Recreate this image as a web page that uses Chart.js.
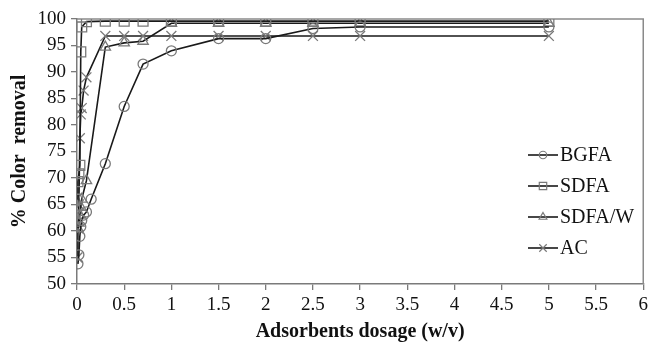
<!DOCTYPE html>
<html><head><meta charset="utf-8">
<script src="https://cdn.jsdelivr.net/npm/chart.js@4/dist/chart.umd.min.js"></script>
<style>html,body{margin:0;padding:0;background:#fff;}#wrap{width:652px;height:344px;position:relative;}</style>
</head><body><div id="wrap"><canvas id="c" width="652" height="344"></canvas></div>
<script>
const seriesNames = ['BGFA', 'SDFA', 'SDFA/W', 'AC'];

const bgfaDose    = [0.01, 0.02, 0.03, 0.04, 0.05, 0.07, 0.1, 0.15, 0.3, 0.5, 0.7, 1, 1.5, 2, 2.5, 3, 5];
const bgfaRemoval = [53.8, 55.5, 59, 60.8, 62, 63, 63.6, 66, 72.7, 83.5, 91.5, 94, 96.3, 96.3, 98.2, 98.5, 98.5];

const sdfaDose    = [0.005, 0.01, 0.02, 0.03, 0.04, 0.05, 0.1, 0.3, 0.5, 0.7, 1, 1.5, 2, 2.5, 3, 5];
const sdfaRemoval = [66, 69.3, 70.8, 72.4, 93.8, 98.5, 99.5, 99.6, 99.6, 99.6, 99.6, 99.6, 99.6, 99.6, 99.6, 99.6];

const sdfawDose    = [0.01, 0.02, 0.03, 0.04, 0.05, 0.1, 0.3, 0.5, 0.7, 1, 1.5, 2, 2.5, 3, 5];
const sdfawRemoval = [60.5, 61.5, 63, 64.5, 66, 69.5, 94.7, 95.5, 95.8, 99.2, 99.2, 99.2, 99.2, 99.2, 99.2];

const acDose    = [0.005, 0.01, 0.02, 0.03, 0.04, 0.05, 0.07, 0.1, 0.3, 0.5, 0.7, 1, 1.5, 2, 2.5, 3, 5];
const acRemoval = [55, 60.5, 65, 77.5, 82, 83.2, 86.5, 89, 96.8, 96.8, 96.8, 96.8, 96.8, 96.8, 96.8, 96.8, 96.8];

const xTicks = [0, 0.5, 1, 1.5, 2, 2.5, 3, 3.5, 4, 4.5, 5, 5.5, 6];
const xTickLabels = ['0', '0.5', '1', '1.5', '2', '2.5', '3', '3.5', '4', '4.5', '5', '5.5', '6'];
const yTicks = [50, 55, 60, 65, 70, 75, 80, 85, 90, 95, 100];
const yTickLabels = ['50', '55', '60', '65', '70', '75', '80', '85', '90', '95', '100'];

const FONT = "'Liberation Serif', 'Times New Roman', serif";
const markerColor = '#7a7a7a';
const lineColor = '#1a1a1a';

function pts(xs, ys) { return xs.map((x, i) => ({x: x, y: ys[i]})); }

const styles = [
  {pointStyle: 'circle', pointRadius: 5},
  {pointStyle: 'rect', pointRadius: 7},
  {pointStyle: 'triangle', pointRadius: 6},
  {pointStyle: 'crossRot', pointRadius: 7}
];
const dataArr = [pts(bgfaDose, bgfaRemoval), pts(sdfaDose, sdfaRemoval), pts(sdfawDose, sdfawRemoval), pts(acDose, acRemoval)];

const datasets = seriesNames.map((n, i) => ({
  label: n,
  data: dataArr[i],
  showLine: true,
  tension: 0,
  borderColor: lineColor,
  borderWidth: 1.6,
  pointStyle: styles[i].pointStyle,
  pointRadius: styles[i].pointRadius,
  pointBorderColor: markerColor,
  pointBackgroundColor: 'rgba(0,0,0,0)',
  pointBorderWidth: 1.3
}));

const framePlugin = {
  id: 'frame',
  beforeDatasetsDraw(chart) {
    const {ctx, chartArea: a} = chart;
    ctx.save();
    ctx.strokeStyle = '#8a8a8a';
    ctx.lineWidth = 1.5;
    ctx.beginPath();
    ctx.moveTo(a.left, a.top);
    ctx.lineTo(a.right, a.top);
    ctx.lineTo(a.right, a.bottom);
    ctx.stroke();
    ctx.restore();
  }
};

const legendPlugin = {
  id: 'customLegend',
  afterDraw(chart) {
    const {ctx} = chart;
    const x0 = 528, x1 = 558, tx = 560;
    const ys = [155, 186, 217, 248];
    ctx.save();
    chart.data.datasets.forEach((ds, i) => {
      const y = ys[i];
      ctx.strokeStyle = lineColor;
      ctx.lineWidth = 1.6;
      ctx.beginPath();
      ctx.moveTo(x0, y); ctx.lineTo(x1, y); ctx.stroke();
      ctx.strokeStyle = markerColor;
      ctx.fillStyle = 'rgba(0,0,0,0)';
      ctx.lineWidth = 1.2;
      Chart.helpers.drawPoint(ctx, {pointStyle: ds.pointStyle, radius: ds.pointRadius * 0.75, borderWidth: 1.2, rotation: 0}, (x0 + x1) / 2, y);
      ctx.fillStyle = '#111';
      ctx.font = '20px ' + FONT;
      ctx.textBaseline = 'middle';
      ctx.textAlign = 'left';
      ctx.fillText(ds.label, tx, y + 1);
    });
    ctx.restore();
  }
};

new Chart(document.getElementById('c'), {
  type: 'scatter',
  data: {datasets},
  plugins: [framePlugin, legendPlugin],
  options: {
    responsive: false,
    animation: false,
    devicePixelRatio: 1,
    layout: {padding: {top: 19, right: 7, left: 0, bottom: 0}},
    plugins: {legend: {display: false}, tooltip: {enabled: false}},
    scales: {
      x: {
        type: 'linear', position: 'bottom', min: 0, max: 6,
        afterBuildTicks: s => { s.ticks = xTicks.map(v => ({value: v})); },
        afterFit: s => { s.height = 60; },
        ticks: {font: {family: FONT, size: 19}, color: '#111', padding: 4, maxRotation: 0, autoSkip: false,
          callback: (v, i) => xTickLabels[i]},
        grid: {drawOnChartArea: false, drawTicks: true, tickLength: 6, color: '#7a7a7a', lineWidth: 1.3},
        border: {display: true, color: '#7a7a7a', width: 1.5},
        title: {display: true, text: 'Adsorbents dosage (w/v)', font: {family: FONT, size: 20, weight: 'bold'}, color: '#111', padding: {top: 0, bottom: 0}}
      },
      y: {
        type: 'linear', min: 50, max: 100,
        afterBuildTicks: s => { s.ticks = yTicks.map(v => ({value: v})); },
        afterFit: s => { s.width = 77; },
        ticks: {font: {family: FONT, size: 19}, color: '#111', padding: 5, autoSkip: false,
          callback: (v, i) => yTickLabels[i]},
        grid: {drawOnChartArea: false, drawTicks: true, tickLength: 6, color: '#7a7a7a', lineWidth: 1.3},
        border: {display: true, color: '#7a7a7a', width: 1.5},
        title: {display: true, text: '% Color  removal', font: {family: FONT, size: 20, weight: 'bold'}, color: '#111', padding: {top: 8, bottom: 0}}
      }
    }
  }
});
</script></body></html>
